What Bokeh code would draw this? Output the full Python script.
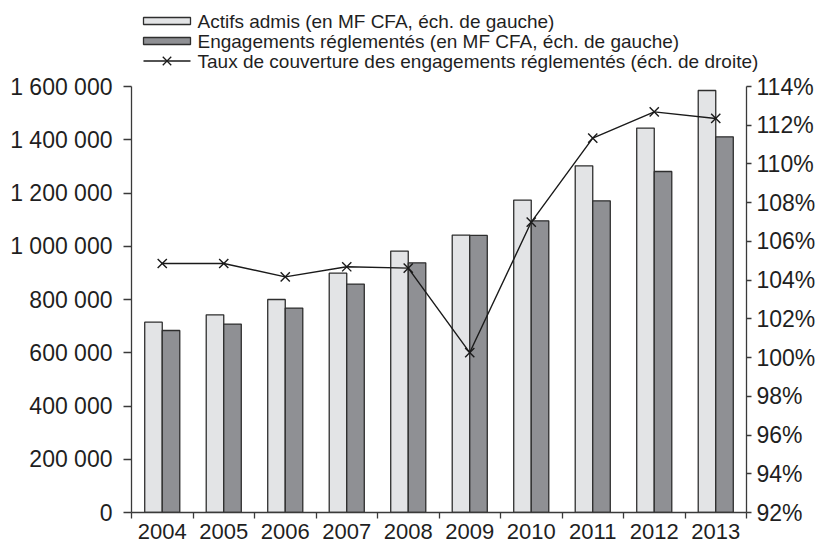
from bokeh.plotting import figure
from bokeh.layouts import column
from bokeh.models import Range1d, LinearAxis, FixedTicker
from bokeh.core.properties import value
from bokeh.embed import file_html
from bokeh.resources import INLINE

years = ["2004", "2005", "2006", "2007", "2008", "2009", "2010", "2011", "2012", "2013"]
actifs = [715000, 742500, 800000, 899000, 981800, 1041900, 1173300, 1302000, 1443700, 1585000]
engagements = [683600, 707600, 767700, 858000, 937800, 1040600, 1095600, 1170700, 1280750, 1411000]
taux = [104.86, 104.86, 104.17, 104.69, 104.62, 100.26, 107.0, 111.33, 112.69, 112.35]

left_ticks = [0, 200000, 400000, 600000, 800000, 1000000, 1200000, 1400000, 1600000]
left_tick_labels = ["0", "200 000", "400 000", "600 000", "800 000", "1 000 000",
                    "1 200 000", "1 400 000", "1 600 000"]
right_ticks = [92, 94, 96, 98, 100, 102, 104, 106, 108, 110, 112, 114]
right_tick_labels = ["92%", "94%", "96%", "98%", "100%", "102%", "104%", "106%",
                     "108%", "110%", "112%", "114%"]
legend_labels = ["Actifs admis (en MF CFA, éch. de gauche)",
                 "Engagements réglementés (en MF CFA, éch. de gauche)",
                 "Taux de couverture des engagements réglementés (éch. de droite)"]

FONT = "Liberation Sans"
TXT = "#1f1f1f"
AX = "#3a3a3a"
LIGHT = "#e3e4e6"
DARK = "#8f9094"
EDGE = "#2e2e2e"
LINE = "#1a1a1a"

W = 827
LEG_H = 73
MAIN_H = 542 - LEG_H

# ---------------- legend strip (pixel space) ----------------
leg = figure(width=W, height=LEG_H, x_range=Range1d(0, W), y_range=Range1d(LEG_H, 0),
             x_axis_type=None, y_axis_type=None, output_backend="svg",
             toolbar_location=None, min_border=0)
leg.min_border_left = 0
leg.min_border_right = 0
leg.min_border_top = 0
leg.min_border_bottom = 0
leg.frame_align = False
leg.outline_line_color = None
leg.background_fill_color = "white"
leg.border_fill_color = "white"

sw_x0, sw_x1, txt_x = 143, 190, 197
row_y = [20.5, 40.5, 60.5]
sw_h = 7
leg.quad(left=[sw_x0, sw_x0], right=[sw_x1, sw_x1],
         top=[row_y[0] - sw_h / 2, row_y[1] - sw_h / 2],
         bottom=[row_y[0] + sw_h / 2, row_y[1] + sw_h / 2],
         fill_color=[LIGHT, DARK], line_color=EDGE, line_width=1.3)
leg.line(x=[sw_x0, sw_x1], y=[row_y[2], row_y[2]], line_color=LINE, line_width=1.3)
leg.scatter(x=[(sw_x0 + sw_x1) / 2], y=[row_y[2]], marker="x", size=12,
            line_color=LINE, line_width=1.3)
leg.text(x=[txt_x] * 3, y=row_y, text=legend_labels, text_baseline="middle",
         text_align="left", text_font=value(FONT), text_font_size="19px", text_color=TXT)

# ---------------- main chart ----------------
n = len(years)
xc = [i + 0.5 for i in range(n)]
bw = 0.285
x_act = [c - bw / 2 for c in xc]
x_eng = [c + bw / 2 for c in xc]

p = figure(width=W, height=MAIN_H, x_range=Range1d(0, n), y_range=Range1d(0, 1600000),
           output_backend="svg", toolbar_location=None,
           min_border_left=131, min_border_right=81, min_border_top=86 - LEG_H,
           min_border_bottom=30)
p.frame_align = False
p.extra_y_ranges = {"pct": Range1d(92, 114)}
p.outline_line_color = None
p.xgrid.visible = False
p.ygrid.visible = False
p.background_fill_color = "white"
p.border_fill_color = "white"

p.vbar(x=x_act, top=actifs, width=bw, fill_color=LIGHT, line_color=EDGE, line_width=1.3)
p.vbar(x=x_eng, top=engagements, width=bw, fill_color=DARK, line_color=EDGE, line_width=1.3)
p.line(xc, taux, y_range_name="pct", line_color=LINE, line_width=1.4)
p.scatter(xc, taux, y_range_name="pct", marker="x", size=13, line_color=LINE, line_width=1.4)

xa = p.xaxis[0]
xa.ticker = FixedTicker(ticks=xc, minor_ticks=list(range(n + 1)))
xa.major_label_overrides = {c: y for c, y in zip(xc, years)}
xa.major_tick_in = 0
xa.major_tick_out = 0
xa.minor_tick_in = 0
xa.minor_tick_out = 6
xa.minor_tick_line_color = AX
xa.minor_tick_line_width = 1.3
xa.axis_line_color = AX
xa.axis_line_width = 1.3
xa.major_label_standoff = 5
xa.major_label_text_font = FONT
xa.major_label_text_font_size = "22px"
xa.major_label_text_color = TXT

ya = p.yaxis[0]
ya.ticker = FixedTicker(ticks=left_ticks)
ya.major_label_overrides = {t: s for t, s in zip(left_ticks, left_tick_labels)}
ya.major_tick_in = 0
ya.major_tick_out = 8
ya.minor_tick_line_color = None
ya.axis_line_color = AX
ya.axis_line_width = 1.3
ya.major_tick_line_color = AX
ya.major_tick_line_width = 1.3
ya.major_label_standoff = 11
ya.major_label_text_font = FONT
ya.major_label_text_font_size = "23px"
ya.major_label_text_color = TXT

ra = LinearAxis(y_range_name="pct", ticker=FixedTicker(ticks=right_ticks))
ra.major_label_overrides = {t: s for t, s in zip(right_ticks, right_tick_labels)}
ra.major_tick_in = 0
ra.major_tick_out = 5
ra.minor_tick_line_color = None
ra.axis_line_color = AX
ra.axis_line_width = 1.3
ra.major_tick_line_color = AX
ra.major_tick_line_width = 1.3
ra.major_label_standoff = 5
ra.major_label_text_font = FONT
ra.major_label_text_font_size = "23px"
ra.major_label_text_color = TXT
p.add_layout(ra, "right")

layout = column(leg, p, spacing=0)
open("out.html", "w").write(file_html(layout, INLINE))
